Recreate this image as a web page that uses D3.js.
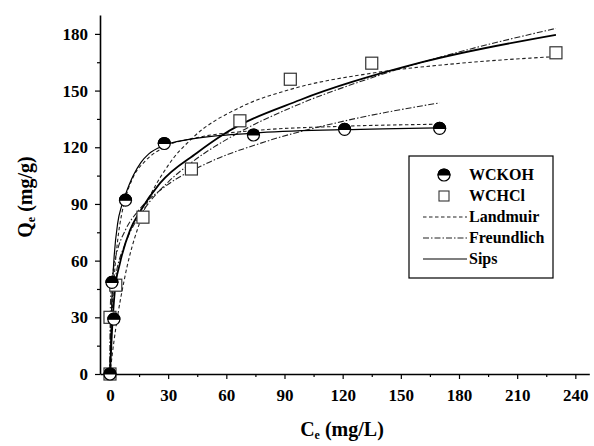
<!DOCTYPE html>
<html>
<head>
<meta charset="utf-8">
<script src="https://cdn.jsdelivr.net/npm/d3@7"></script>
<style>
  body { margin: 0; background: #fff; }
</style>
</head>
<body>
<div id="chart"></div>
<script>
// measured points
var kohCe = [0, 2, 1, 8, 28, 74, 121, 170];
var kohQe = [0, 29, 48.5, 92, 122, 126.5, 129.5, 130];
var hclCe = [0, 0, 3, 17, 42, 67, 93, 135, 230];
var hclQe = [0, 30, 47, 83, 108.5, 134, 156, 164.5, 170];

// fitted curves
var kohLangCe = [0, 1, 2, 4, 6, 8, 12, 18, 28, 45, 74, 120, 170];
var kohLangQe = [0, 29.5, 48.2, 71.1, 84.4, 93.1, 104.3, 112.5, 120.1, 125.1, 128.8, 131.1, 132.2];
var kohFreuCe = [0, 0.2, 0.5, 1, 2, 4, 8, 15, 28, 50, 80, 120, 170];
var kohFreuQe = [0, 35.6, 43, 49.6, 57.2, 66.1, 76.3, 86.9, 98.9, 111.5, 122.9, 133.7, 143.5];
var kohSipsCe = [0, 1, 2, 4, 6, 8, 12, 16, 20, 28, 40, 74, 120, 170];
var kohSipsQe = [0, 40, 60, 80, 89, 95, 105, 112, 116.5, 121, 124, 127.5, 129.3, 130.3];

var hclLangCe = [0, 1, 3, 8, 17, 30, 42, 67, 93, 135, 180, 230];
var hclLangQe = [0, 8.9, 24.3, 53, 84.9, 110.4, 124.4, 141.1, 150.6, 159.2, 164.4, 168];
var hclFreuCe = [0, 0.2, 1, 3, 8, 17, 30, 42, 67, 93, 135, 180, 230];
var hclFreuQe = [0, 23.9, 38, 52.2, 69.3, 86.2, 101.6, 111.9, 128.1, 140.8, 156.8, 170.4, 182.9];
var hclSipsCe = [0, 1, 2.6, 5, 10.3, 15.5, 25.8, 44.8, 58, 98, 161, 230];
var hclSipsQe = [0, 22, 45, 58, 76, 86, 101, 117, 126.5, 145, 165, 179.5];

var xTicks = [0, 30, 60, 90, 120, 150, 180, 210, 240];
var yTicks = [0, 30, 60, 90, 120, 150, 180];
var legendNames = ["WCKOH", "WCHCl", "Landmuir", "Freundlich", "Sips"];

var FONT = "'Liberation Serif', 'Times New Roman', 'DejaVu Serif', serif";

var width = 594, height = 446;
var svg = d3.select("#chart").append("svg")
    .attr("width", width)
    .attr("height", height);

var x = d3.scaleLinear().domain([-5.15, 247.2]).range([100, 589.3]);
var y = d3.scaleLinear().domain([0, 190]).range([374, 15]);

function zip(a, b) { return a.map(function(v, i) { return [v, b[i]]; }); }

// axes
var xMinor = d3.range(15, 250, 30);
var yMinor = d3.range(15, 190, 30);

svg.append("g").attr("transform", "translate(0,374)")
    .call(d3.axisBottom(x).tickValues(xTicks).tickSizeInner(5).tickSizeOuter(0).tickPadding(10));
svg.append("g").attr("transform", "translate(0,374)")
    .call(d3.axisBottom(x).tickValues(xMinor).tickSize(3).tickFormat(""))
    .select(".domain").remove();
svg.append("g").attr("transform", "translate(100,0)")
    .call(d3.axisLeft(y).tickValues(yTicks).tickSizeInner(5).tickSizeOuter(0).tickPadding(7));
svg.append("g").attr("transform", "translate(100,0)")
    .call(d3.axisLeft(y).tickValues(yMinor).tickSize(3).tickFormat(""))
    .select(".domain").remove();

svg.selectAll(".domain").attr("stroke-width", 1.6);
svg.selectAll(".tick line").attr("stroke-width", 1.2);
svg.selectAll(".tick text")
    .attr("font-family", FONT).attr("font-weight", "bold")
    .attr("font-size", 17).attr("fill", "#000");

// axis titles
var xt = svg.append("text").attr("x", 342).attr("y", 436).attr("text-anchor", "middle")
    .attr("font-family", FONT).attr("font-weight", "bold").attr("font-size", 20);
xt.append("tspan").text("C");
xt.append("tspan").attr("dy", 3).attr("font-size", 12).text("e");
xt.append("tspan").attr("dy", -3).text(" (mg/L)");

var yt = svg.append("text").attr("transform", "translate(32,197) rotate(-90)")
    .attr("text-anchor", "middle")
    .attr("font-family", FONT).attr("font-weight", "bold").attr("font-size", 20);
yt.append("tspan").text("Q");
yt.append("tspan").attr("dy", 3).attr("font-size", 12).text("e");
yt.append("tspan").attr("dy", -3).text(" (mg/g)");

// curves
var line = d3.line()
    .x(function(d) { return x(d[0]); })
    .y(function(d) { return y(d[1]); })
    .curve(d3.curveMonotoneX);

var dashLang = "3.5,2.5", dashFreu = "6,2,1.5,2";
var curves = [
    {d: zip(hclLangCe, hclLangQe), dash: dashLang, w: 1.1, c: "#222"},
    {d: zip(hclFreuCe, hclFreuQe), dash: dashFreu, w: 1.1, c: "#222"},
    {d: zip(kohLangCe, kohLangQe), dash: dashLang, w: 1.1, c: "#222"},
    {d: zip(kohFreuCe, kohFreuQe), dash: dashFreu, w: 1.1, c: "#222"},
    {d: zip(kohSipsCe, kohSipsQe), dash: null, w: 1.2, c: "#000"},
    {d: zip(hclSipsCe, hclSipsQe), dash: null, w: 1.8, c: "#000"}
];
curves.forEach(function(cv) {
    svg.append("path")
        .attr("d", line(cv.d))
        .attr("fill", "none")
        .attr("stroke", cv.c)
        .attr("stroke-width", cv.w)
        .attr("stroke-dasharray", cv.dash);
});

// markers
function square(g, cx, cy) {
    g.append("rect").attr("x", cx - 6).attr("y", cy - 6).attr("width", 12).attr("height", 12)
        .attr("fill", "#fff").attr("stroke", "#333").attr("stroke-width", 1.2);
}
function halfCircle(g, cx, cy) {
    var r = 6;
    g.append("circle").attr("cx", cx).attr("cy", cy).attr("r", r)
        .attr("fill", "#fff").attr("stroke", "#000").attr("stroke-width", 1.2);
    g.append("path")
        .attr("d", "M" + (cx - r) + "," + cy + " A" + r + "," + r + " 0 0 1 " + (cx + r) + "," + cy + " Z")
        .attr("fill", "#000").attr("stroke", "#000").attr("stroke-width", 1.2);
}

var pts = svg.append("g");
hclCe.forEach(function(c, i) { square(pts, x(c), y(hclQe[i])); });
kohCe.forEach(function(c, i) { halfCircle(pts, x(c), y(kohQe[i])); });

// legend
var lg = svg.append("g");
lg.append("rect").attr("x", 409).attr("y", 156).attr("width", 144).attr("height", 122)
    .attr("fill", "#fff").attr("stroke", "#000").attr("stroke-width", 1.2);
var rowY = [175, 196, 217, 238, 259];
halfCircle(lg, 444, rowY[0]);
lg.append("rect").attr("x", 439).attr("y", rowY[1] - 5).attr("width", 10).attr("height", 10)
    .attr("fill", "#fff").attr("stroke", "#333").attr("stroke-width", 1.1);
[dashLang, dashFreu, null].forEach(function(ds, i) {
    lg.append("line").attr("x1", 423).attr("x2", 467)
        .attr("y1", rowY[i + 2]).attr("y2", rowY[i + 2])
        .attr("stroke", i == 2 ? "#000" : "#222").attr("stroke-width", 1.1)
        .attr("stroke-dasharray", ds);
});
legendNames.forEach(function(n, i) {
    lg.append("text").attr("x", 469).attr("y", rowY[i] + 5)
        .attr("font-family", FONT).attr("font-weight", "bold")
        .attr("font-size", 16).text(n);
});
</script>
</body>
</html>
